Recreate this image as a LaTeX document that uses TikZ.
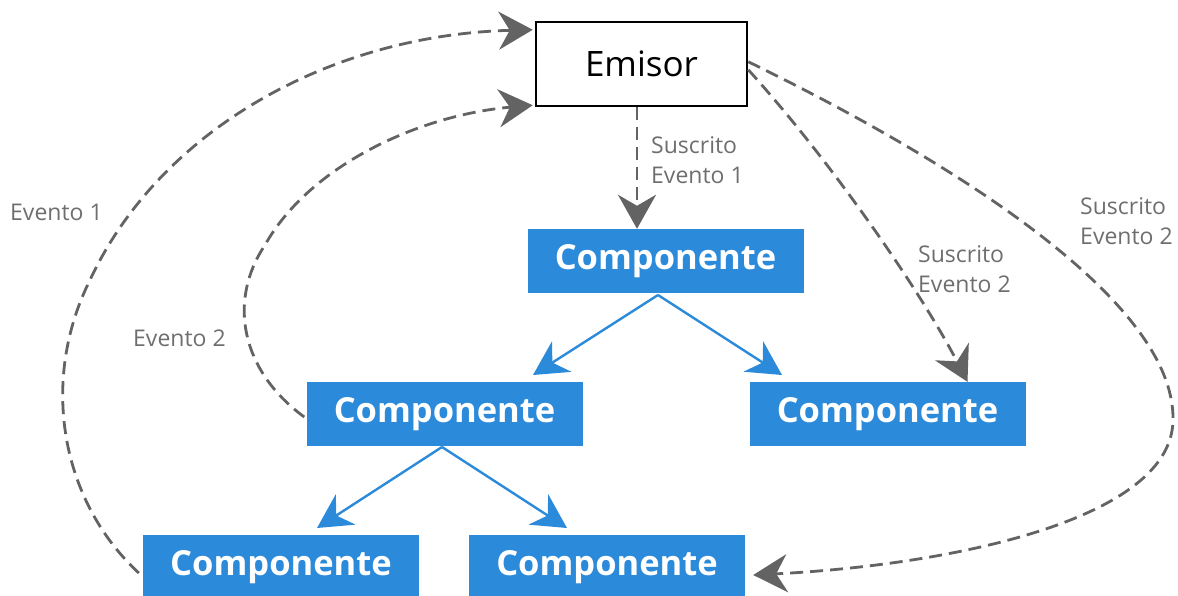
\documentclass[tikz,border=0pt]{standalone}
\usepackage{fontspec}
\setmainfont{Open Sans}
\usetikzlibrary{arrows.meta,calc}
\definecolor{cblue}{HTML}{2B8AD9}
\definecolor{cgray}{HTML}{636363}
\definecolor{tgray}{HTML}{6E6E6E}
\begin{document}
\begin{tikzpicture}[x=1pt,y=-1pt,
  comp/.style={fill=cblue, text=white, font=\fontsize{34.5}{40}\selectfont\bfseries,
    minimum width=276pt, minimum height=64pt, inner sep=0pt},
  emis/.style={draw=black, line width=2.5pt, fill=white, font=\fontsize{35}{40}\selectfont,
    minimum width=211pt, minimum height=84pt, inner sep=0pt},
  lbl/.style={text=tgray, font=\fontsize{23}{30}\selectfont, align=left, inner sep=0pt, anchor=west},
  sub/.style={draw=cgray, line width=2.8pt, dash pattern=on 13pt off 7pt,
    -{Stealth[length=34pt,width=38pt,inset=11pt]}},
  flow/.style={draw=cblue, line width=2.4pt,
    -{Stealth[length=34pt,width=36pt,inset=11pt]}}
]
\path[use as bounding box] (0,0) rectangle (1178,596);
\clip (0,0) rectangle (1178,596);

% nodes
\node[emis] (emisor) at (641.5,64) {Emisor};
\node[comp] (top)  at (665.5,261) {Componente};
\node[comp] (midL) at (444.5,414) {Componente};
\node[comp] (midR) at (887.5,414) {Componente};
\node[comp] (botL) at (281,567) {Componente};
\node[comp] (botM) at (607,567) {Componente};

% labels
\node[lbl] (l1) at (651,160) {Suscrito\\Evento 1};
\node[lbl] (l2) at (918,269) {Suscrito\\Evento 2};
\node[lbl] (l3) at (1080,221) {Suscrito\\Evento 2};
\node[lbl] (l4) at (10,212) {Evento 1};
\node[lbl] (l5) at (133,338) {Evento 2};

% blue flow arrows
\coordinate (fa) at (658,295);
\coordinate (fL) at (533,375);
\coordinate (fR) at (782,375);
\coordinate (fb) at (442,447);
\coordinate (fLL) at (317,528);
\coordinate (fLR) at (567,528);
\draw[flow] (fa) -- (fL);
\draw[flow] (fa) -- (fR);
\draw[flow] (fb) -- (fLL);
\draw[flow] (fb) -- (fLR);

% gray dashed subscriptions / events
\coordinate (sx) at (637,0);
\draw[sub] (emisor.south -| sx) -- (top.north -| sx);
\draw[sub] ($(emisor.north east)+(0,49)$) .. controls (830,160) and (920,290) .. ($(midR.north)+(80,0)$);
\draw[sub] ($(emisor.north east)+(0,41)$) .. controls (950,160) and (1175,300) .. (1173,420)
  .. controls (1172,520) and (950,565) .. ($(botM.east)+(8,8)$);
\draw[sub] ($(botL.west)+(-4,6)$) .. controls (60,500) and (40,380) .. (90,280)
  .. controls (160,130) and (330,35) .. ($(emisor.north west)+(-2,9)$);
\draw[sub] ($(midL.west)+(-2,3)$) .. controls (240,370) and (228,300) .. (265,245)
  .. controls (310,165) and (420,115) .. ($(emisor.south west)+(-2,-2)$);
\end{tikzpicture}
\end{document}
